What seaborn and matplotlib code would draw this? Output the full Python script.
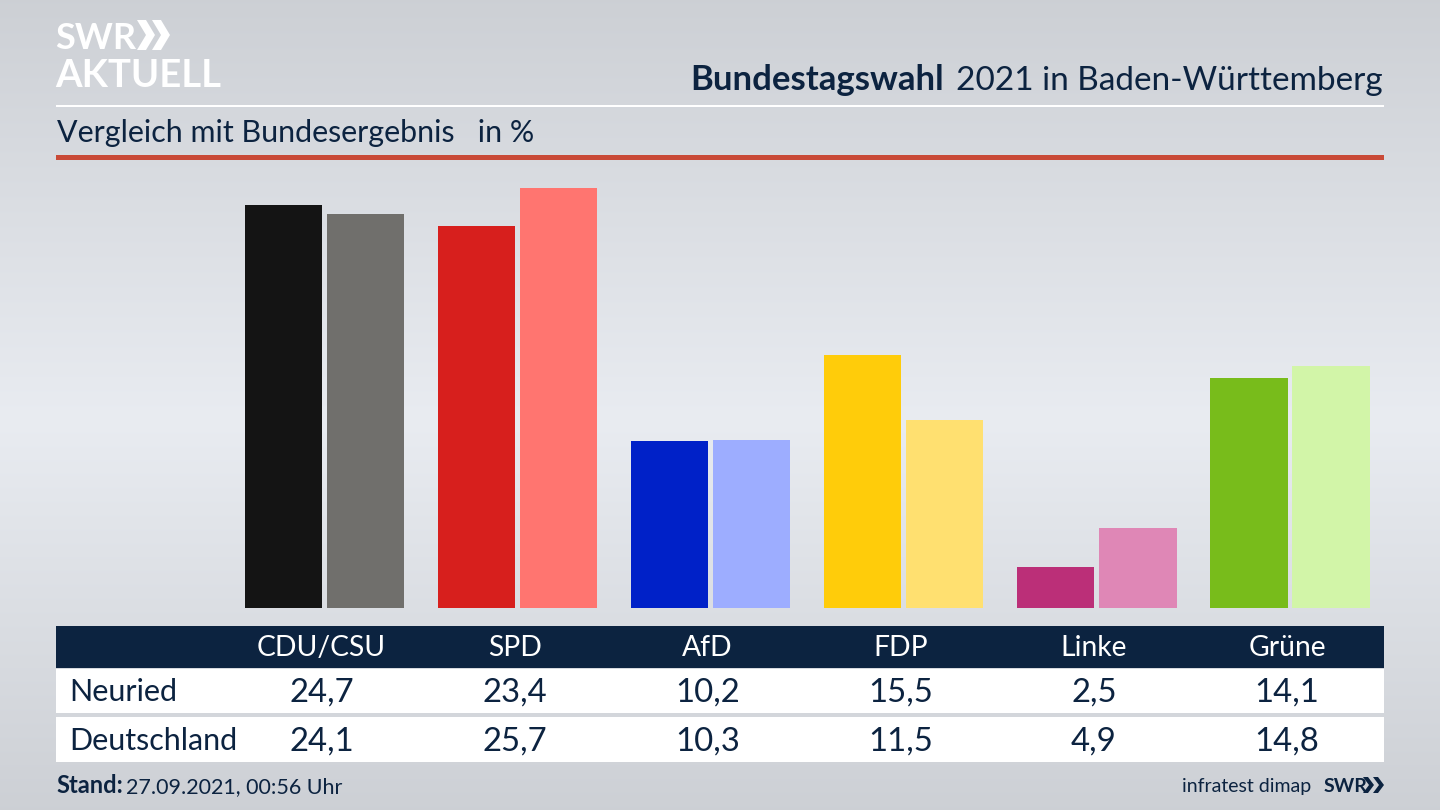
import numpy as np
import pandas as pd
import matplotlib.pyplot as plt
import seaborn as sns

parties = ['CDU/CSU', 'SPD', 'AfD', 'FDP', 'Linke', 'Grüne']
neuried = [24.7, 23.4, 10.2, 15.5, 2.5, 14.1]
deutschland = [24.1, 25.7, 10.3, 11.5, 4.9, 14.8]
colors_neuried = ['#141414', '#d71f1d', '#0021c8', '#ffcc0a', '#bb2f78', '#78bc1b']
colors_deutschland = ['#706f6c', '#ff7570', '#9dadff', '#ffe070', '#df87b6', '#d2f5a8']

NAVY = '#0c2340'
W, H = 1440, 810

sns.set_theme(style='white')
plt.rcParams['font.family'] = ['Lato', 'DejaVu Sans']

df = pd.DataFrame({
    'party': parties * 2,
    'region': ['Neuried'] * 6 + ['Deutschland'] * 6,
    'value': neuried + deutschland,
})

fig = plt.figure(figsize=(14.4, 8.1), dpi=100)

# background gradient, light in the middle
bg = fig.add_axes([0, 0, 1, 1], zorder=0)
shade = np.concatenate([np.linspace(0.815, 0.925, 420), np.linspace(0.925, 0.815, 390)])
shade = np.stack([shade - 0.012, shade, shade + 0.02], axis=1)[:, None, :]
bg.imshow(np.clip(shade, 0, 1), aspect='auto', extent=[0, W, H, 0])
bg.set_xlim(0, W)
bg.set_ylim(H, 0)
bg.axis('off')

# bars, spread over the full width so category i sits at 324.5 + 193.1 * i
ax = fig.add_axes([0, (H - 608) / H, 1, 448 / H], zorder=1)
ax.patch.set_alpha(0)
sns.barplot(data=df, x='party', y='value', hue='region', order=parties,
            hue_order=['Neuried', 'Deutschland'], width=0.85, gap=0.06,
            legend=False, ax=ax)
for container, cols in zip(ax.containers, [colors_neuried, colors_deutschland]):
    for bar, col in zip(container, cols):
        bar.set_facecolor(col)
        bar.set_edgecolor('none')
ax.set_xlim(-324.5 / 193.1, (W - 324.5) / 193.1)
ax.set_ylim(0, 448 / 16.33)
ax.axis('off')

# header and table on top, in pixel coordinates
top = fig.add_axes([0, 0, 1, 1], zorder=2)
top.patch.set_alpha(0)
top.set_xlim(0, W)
top.set_ylim(H, 0)
top.axis('off')


def band(y0, y1, color):
    top.fill_between([56, 1384], y0, y1, color=color, lw=0)


def chevron(x0, y0, y1, arm, depth, color):
    mid = (y0 + y1) / 2
    top.fill([x0, x0 + arm, x0 + arm + depth, x0 + arm, x0, x0 + depth],
             [y0, y0, mid, y1, y1, mid], color=color, lw=0)


band(104.5, 107, 'white')
band(155, 160, '#c94a37')
band(626, 668, NAVY)
band(669, 713, 'white')
band(717, 762, 'white')

# logo
top.text(55, 49, 'SWR', color='white', fontsize=26, fontweight='bold', va='baseline')
top.text(55, 87, 'AKTUELL', color='white', fontsize=27.5, fontweight='bold', va='baseline')
for x0 in (137, 152):
    chevron(x0, 20, 50, 9, 9, 'white')

top.text(1383, 90, '2021 in Baden-Württemberg', color=NAVY, fontsize=24, ha='right', va='baseline')
top.text(944, 90, 'Bundestagswahl', color=NAVY, fontsize=25, fontweight='bold', ha='right', va='baseline')
top.text(57, 142, 'Vergleich mit Bundesergebnis   in %', color=NAVY, fontsize=21.9, va='baseline')

top.text(69, 701, 'Neuried', color=NAVY, fontsize=22, va='baseline')
top.text(69, 750, 'Deutschland', color=NAVY, fontsize=22, va='baseline')

# table columns follow the category positions of the bars, a little to the left
trans = ax.get_xaxis_transform()
shift = 3 / 193.1
for i, party in enumerate(parties):
    top.text(i - shift, 1 - (656 - 160) / 448, party, transform=trans, color='white', fontsize=20.3,
             ha='center', va='baseline')
    top.text(i - shift, 1 - (702 - 160) / 448, f'{neuried[i]:.1f}'.replace('.', ','), transform=trans,
             color=NAVY, fontsize=23.7, ha='center', va='baseline')
    top.text(i - shift, 1 - (751 - 160) / 448, f'{deutschland[i]:.1f}'.replace('.', ','), transform=trans,
             color=NAVY, fontsize=23.7, ha='center', va='baseline')

top.text(56, 793, 'Stand:', color=NAVY, fontsize=17, fontweight='bold', va='baseline')
top.text(126, 793, '27.09.2021, 00:56 Uhr', color=NAVY, fontsize=15.5, va='baseline')
top.text(1311, 792, 'infratest dimap', color=NAVY, fontsize=14, ha='right', va='baseline')
top.text(1324, 792, 'SWR', color=NAVY, fontsize=14, fontweight='bold', va='baseline')
for x0 in (1363, 1373):
    chevron(x0, 777, 793, 5, 6, NAVY)

fig.savefig('out.png', dpi=100)
